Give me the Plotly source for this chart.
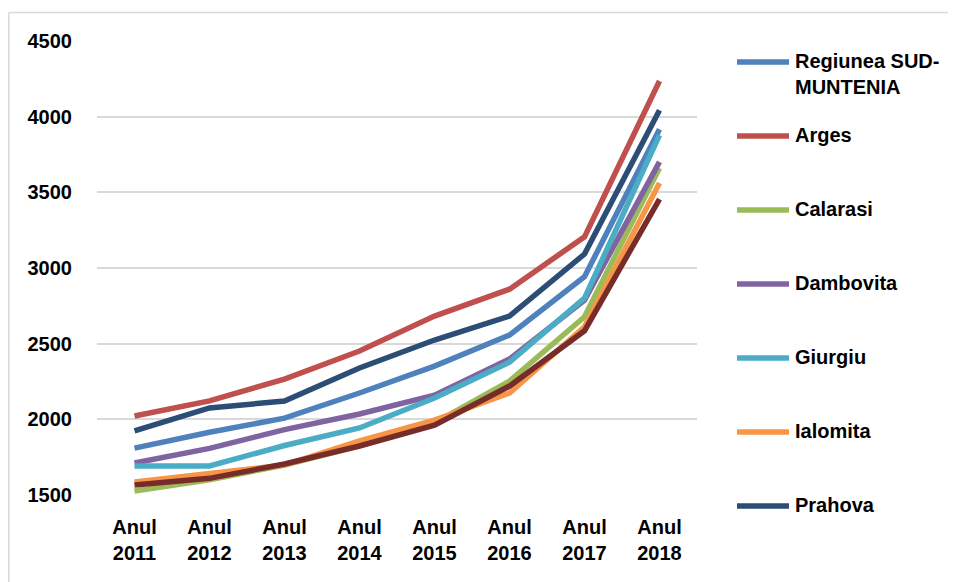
import plotly.graph_objects as go

years = ["Anul<br>2011", "Anul<br>2012", "Anul<br>2013", "Anul<br>2014",
         "Anul<br>2015", "Anul<br>2016", "Anul<br>2017", "Anul<br>2018"]

regiunea = [1810, 1915, 2008, 2174, 2352, 2557, 2942, 3917]
arges = [2022, 2122, 2266, 2451, 2682, 2860, 3206, 4236]
calarasi = [1526, 1600, 1698, 1824, 1976, 2253, 2678, 3660]
dambovita = [1711, 1808, 1932, 2035, 2160, 2398, 2788, 3701]
giurgiu = [1692, 1692, 1827, 1943, 2141, 2378, 2801, 3878]
ialomita = [1586, 1645, 1698, 1857, 1995, 2174, 2612, 3561]
prahova = [1923, 2075, 2121, 2339, 2524, 2682, 3092, 4043]
teleorman = [1566, 1610, 1705, 1824, 1962, 2220, 2585, 3455]

series_names = ["Regiunea SUD-<br>MUNTENIA", "Arges", "Calarasi", "Dambovita",
                "Giurgiu", "Ialomita", "Prahova", "Teleorman"]
series_values = [regiunea, arges, calarasi, dambovita, giurgiu, ialomita,
                 prahova, teleorman]
colors = ["#4F81BD", "#C0504D", "#9BBB59", "#8064A2", "#4BACC6", "#F79646",
          "#2C4D75", "#772C2A"]

FONT = "Liberation Sans"
FS = 20

fig = go.Figure()
for name, vals, col in zip(series_names, series_values, colors):
    fig.add_trace(go.Scatter(x=years, y=vals, mode="lines",
                             name=name.replace("<br>", ""),
                             line=dict(color=col, width=5.5),
                             showlegend=False))

# the page places the figure 8px in from the top-left corner
OFF = 8
W, H = 948, 574
L, R, T, B = 89, 0, 33, 87
pw = W - L - R
ph = H - T - B


def px(xp):
    return (xp - OFF - L) / pw


def py(yp):
    return (H - B - (yp - OFF)) / ph


shapes = []
annotations = []
# outer chart border (top and left edges visible in the reference)
shapes.append(dict(type="line", xref="paper", yref="paper",
                   x0=px(8.8), x1=px(1000), y0=py(12.5), y1=py(12.5),
                   line=dict(color="#D9D9D9", width=1.5), layer="below"))
shapes.append(dict(type="line", xref="paper", yref="paper",
                   x0=px(8.8), x1=px(8.8), y0=py(12.5), y1=py(620),
                   line=dict(color="#D9D9D9", width=1.5), layer="below"))

# manual legend (first seven series, as in the reference)
for i in range(7):
    yc = 62 + 74 * i
    shapes.append(dict(type="line", xref="paper", yref="paper",
                       x0=px(737), x1=px(789), y0=py(yc), y1=py(yc),
                       line=dict(color=colors[i], width=5.5)))
    annotations.append(dict(xref="paper", yref="paper", x=px(793), y=py(yc - 14),
                            xanchor="left", yanchor="top", showarrow=False,
                            align="left", text="<b>%s</b>" % series_names[i],
                            font=dict(family=FONT, size=FS, color="#000000")))

fig.update_layout(
    width=W, height=H,
    margin=dict(l=L, r=R, t=T, b=B),
    paper_bgcolor="white", plot_bgcolor="white",
    showlegend=False,
    shapes=shapes, annotations=annotations,
    font=dict(family=FONT, size=FS, color="#000000"),
    xaxis=dict(type="category", domain=[0, 600 / pw], range=[-0.5, 7.5],
               showgrid=False, zeroline=False, showline=False, ticks="",
               tickfont=dict(family=FONT, size=FS, color="#000000", weight="bold"),
               ticklabelstandoff=18),
    yaxis=dict(range=[1500, 4500], dtick=500, tick0=1500,
               showgrid=True, gridcolor="#D9D9D9", gridwidth=1.5,
               zeroline=False, showline=False, ticks="",
               tickfont=dict(family=FONT, size=FS, color="#000000", weight="bold"),
               ticklabelstandoff=24),
)

fig.write_html("out.html")
